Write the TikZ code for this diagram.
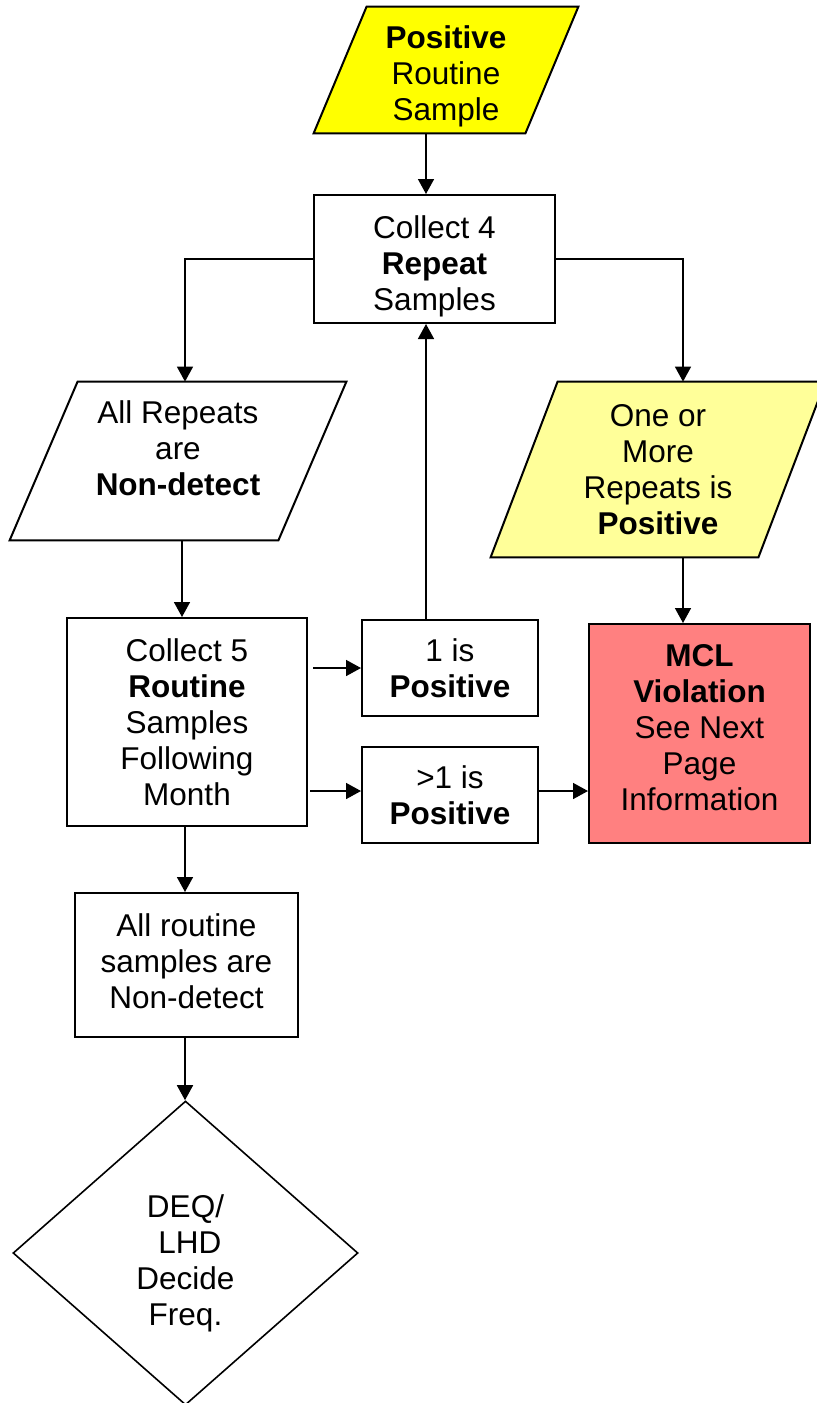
\documentclass[tikz,border=0pt]{standalone}
\usepackage{fontspec}
\setmainfont{Liberation Sans}
\usetikzlibrary{positioning,arrows.meta,shapes.geometric,backgrounds}
\definecolor{brightyellow}{HTML}{FFFF00}
\definecolor{paleyellow}{HTML}{FFFF99}
\definecolor{violred}{HTML}{FF8080}
% slanted frame behind a (borderless) node: #1 node, #2 half skew, #3 fill
\newcommand{\paraframe}[3]{%
  \filldraw[line width=1pt,fill=#3]
    ([xshift=#2]#1.north west) -- ([xshift=#2]#1.north east)
    -- ([xshift=-#2]#1.south east) -- ([xshift=-#2]#1.south west) -- cycle;}
\begin{document}
\begin{tikzpicture}[
  x=0.5pt, y=-0.5pt,
  every node/.style={font=\fontsize{15.75}{18}\selectfont, align=center, inner sep=0pt},
  stepbox/.style={draw, line width=1pt, fill=white},
  parabox/.style={draw=none},
  decide/.style={draw, line width=0.8pt, diamond, fill=white},
  tbox/.style 2 args={text height=#1, text depth=#2},
  arr/.style={line width=0.8pt, -{Triangle[length=7.5pt,width=8pt]}},
]
\useasboundingbox (0,0) rectangle (817,1403);
% shared vertical lines
\coordinate (midx) at (426,0);
\coordinate (leftx) at (185,0);
\coordinate (rightx) at (683,0);
% input boxes
\node[parabox, tbox={53.3pt}{3.3pt}, minimum width=105.5pt, minimum height=63pt] (src) at (446,70)
  {\textbf{Positive}\\Routine\\Sample};
\node[stepbox, tbox={54.3pt}{3.3pt}, minimum width=120.5pt, minimum height=64pt] (rep4) at (434.5,259)
  {Collect 4\\\textbf{Repeat}\\Samples};
\node[parabox, tbox={47.3pt}{13pt}, minimum width=134pt, minimum height=79pt] (allnd) at (178,461)
  {All Repeats\\are\\\textbf{Non-detect}};
\node[parabox, minimum width=133.5pt, minimum height=87.5pt] (onepos) at (658,469.5)
  {One or\\More\\Repeats is\\\textbf{Positive}};
% routine round
\node[stepbox, minimum width=120pt, minimum height=104pt] (rt5) at (187,722)
  {Collect 5\\\textbf{Routine}\\Samples\\Following\\Month};
\node[stepbox, minimum width=88pt, minimum height=48pt] (pos1) at (450,668)
  {1 is\\\textbf{Positive}};
\node[stepbox, minimum width=88pt, minimum height=48pt] (posgt) at (450,795)
  {>1 is\\\textbf{Positive}};
\node[stepbox, tbox={83.3pt}{6pt}, fill=violred, minimum width=110.5pt, minimum height=109.5pt] (mcl) at (699.5,733.5)
  {\textbf{MCL}\\\textbf{Violation}\\See Next\\Page\\Information};
\node[stepbox, tbox={47.3pt}{4pt}, minimum width=111.5pt, minimum height=72pt] (allrt) at (186.5,965)
  {All routine\\samples are\\Non-detect};
\node[decide, tbox={75.3pt}{3.3pt}, minimum width=172.5pt, minimum height=152pt, shape aspect=1.13] (deq) at (185.5,1253)
  {DEQ/\\\ LHD\\Decide\\Freq.};
% slanted frames
\begin{scope}[on background layer]
  \paraframe{src}{13.25pt}{brightyellow}
  \paraframe{allnd}{17pt}{white}
  \paraframe{onepos}{16.75pt}{paleyellow}
\end{scope}
% connectors
\draw[arr] (src.south -| midx) -- (rep4.north -| midx);
\draw[arr] (rep4.west) -| (allnd.north -| leftx);
\draw[arr] (rep4.east) -| (onepos.north -| rightx);
\draw[arr] (allnd.south -| 182,0) -- (rt5.north -| 182,0);
\draw[arr] (onepos.south -| rightx) -- (mcl.north -| rightx);
\draw[arr] (pos1.north -| midx) -- (rep4.south -| midx);
\draw[arr] ([xshift=2.5pt]rt5.east |- pos1.west) -- (pos1.west);
\draw[arr] ([xshift=1pt]rt5.east |- 0,791) -- (posgt.west |- 0,791);
\draw[arr] ([xshift=-1pt]posgt.east |- 0,791) -- (mcl.west |- 0,791);
\draw[arr] (rt5.south -| leftx) -- (allrt.north -| leftx);
\draw[arr] (allrt.south -| leftx) -- (deq.north -| leftx);
\end{tikzpicture}
\end{document}
